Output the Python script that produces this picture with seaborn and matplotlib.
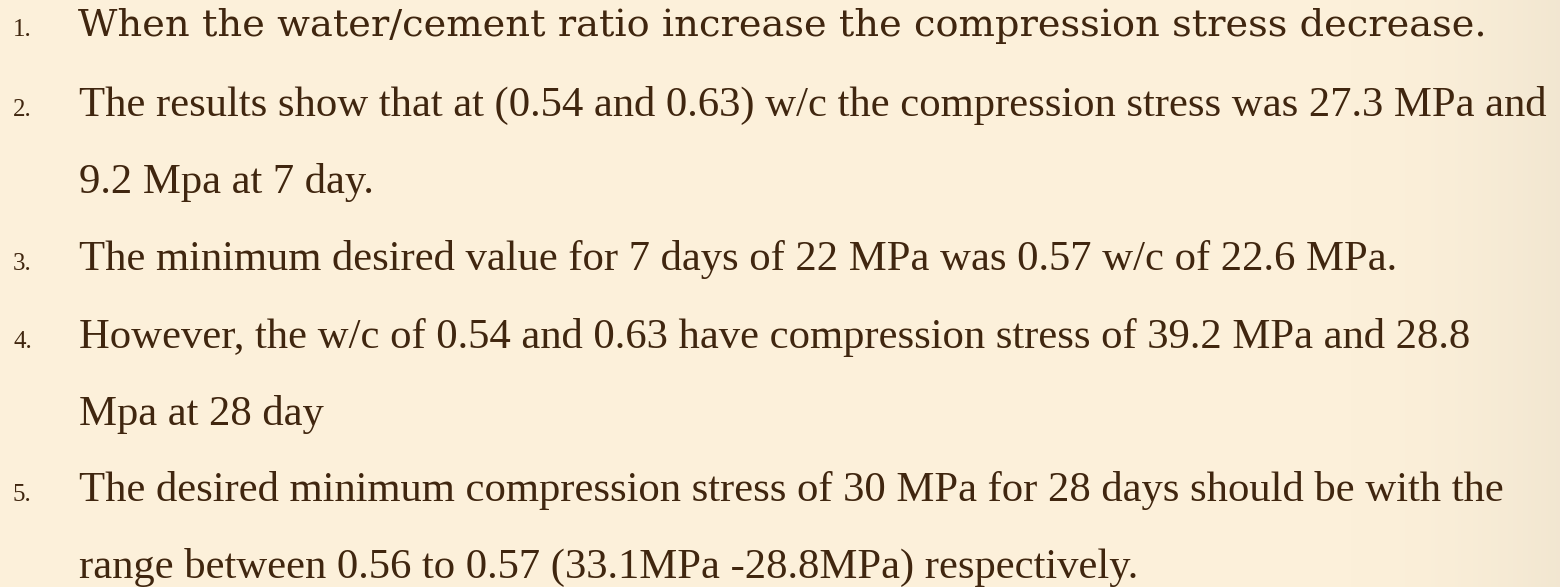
import matplotlib
matplotlib.use("Agg")
import matplotlib.pyplot as plt
import seaborn as sns
import numpy as np

# ---- content ----
item_numbers = ["1.", "2.", "", "3.", "4.", "", "5.", ""]
line_texts = [
    "When the water/cement ratio increase the compression stress decrease.",
    "The results show that at (0.54 and 0.63) w/c the compression stress was 27.3 MPa and",
    "9.2 Mpa at 7 day.",
    "The minimum desired value for 7 days of 22 MPa was 0.57 w/c of 22.6 MPa.",
    "However, the w/c of 0.54 and 0.63 have compression stress of 39.2 MPa and 28.8",
    "Mpa at 28 day",
    "The desired minimum compression stress of 30 MPa for 28 days should be with the",
    "range between 0.56 to 0.57 (33.1MPa -28.8MPa) respectively.",
]
line_baselines = [36, 116, 193, 270, 348, 425, 501, 578]

sns.set_theme(style="white")
plt.rcParams["font.family"] = ["Liberation Serif", "DejaVu Serif"]

W, H = 1560, 587
bg = "#fcf0da"
fig = plt.figure(figsize=(W / 100, H / 100), dpi=100)
fig.patch.set_facecolor(bg)
ax = fig.add_axes([0, 0, 1, 1])
ax.set_xlim(0, W)
ax.set_ylim(H, 0)
ax.set_facecolor(bg)
ax.axis("off")

# soft parchment shading toward the right edge
xs = np.linspace(0, 1, 400)
shade = np.clip((xs - 0.85) / 0.15, 0, 1) ** 2
img = np.ones((2, 400, 4))
img[..., 0] = 0.86
img[..., 1] = 0.82
img[..., 2] = 0.74
img[..., 3] = shade[None, :] * 0.3
ax.imshow(img, extent=[0, W, H, 0], aspect="auto", zorder=0, interpolation="bilinear")

color = "#40260f"
for i, (num, txt, yb) in enumerate(zip(item_numbers, line_texts, line_baselines)):
    if num:
        ax.text(13, yb, num, fontsize=18, color=color, va="baseline", ha="left",
                family="Liberation Serif", zorder=2)
    if i == 0:
        ax.text(78, yb, txt, fontsize=27.6, color=color, va="baseline", ha="left",
                family="DejaVu Serif", zorder=2)
    else:
        ax.text(79, yb, txt, fontsize=30.7, color=color, va="baseline", ha="left",
                family="Liberation Serif", zorder=2)

fig.savefig("out.png", dpi=100, facecolor=fig.get_facecolor())
